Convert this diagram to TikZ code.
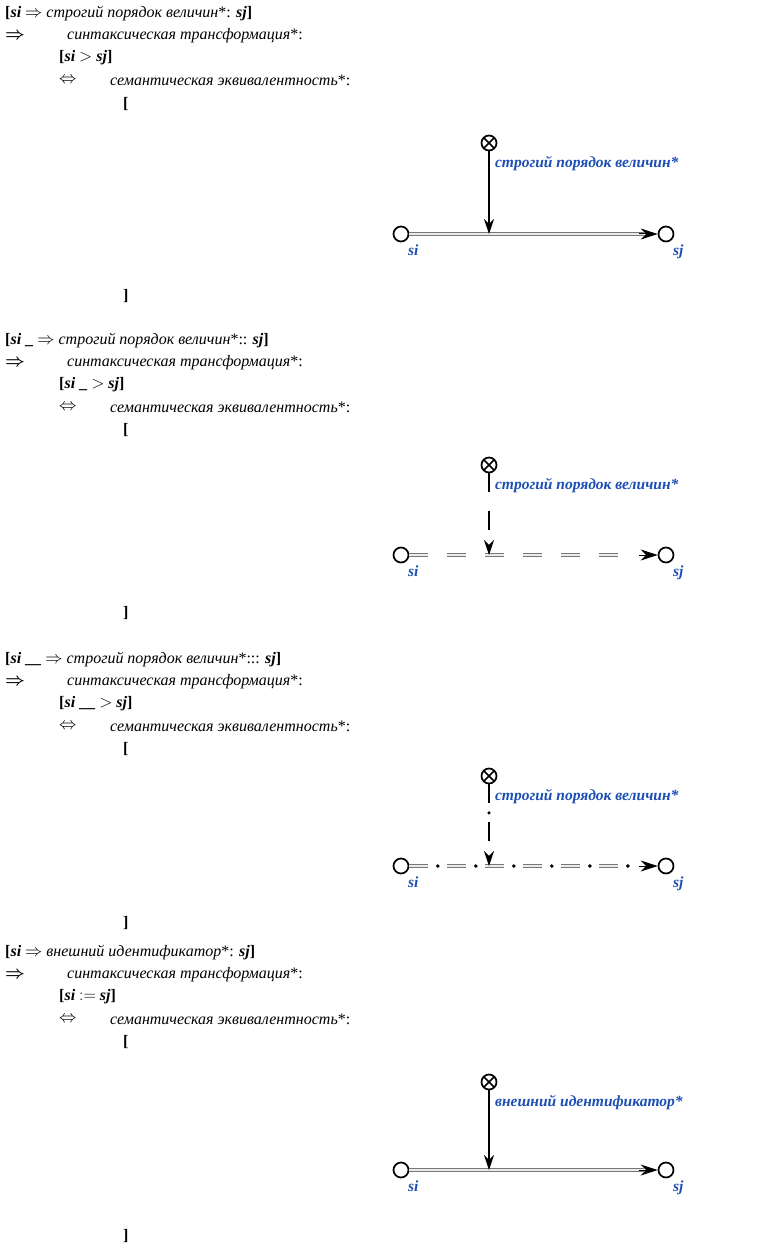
\documentclass[tikz,border=0pt]{standalone}
\usepackage{amsmath}
\usepackage{fontspec}
\setmainfont{Liberation Serif}
\usepackage{tikz}
\usetikzlibrary{positioning}
\usetikzlibrary{arrows.meta}

\definecolor{lblblue}{RGB}{28,78,180}
\definecolor{relgray}{RGB}{120,120,120}

\tikzset{
  txt/.style={anchor=west, inner sep=0pt, font=\fontsize{16}{18}\selectfont},
  vertex/.style={circle, draw, line width=1.7pt, minimum size=15pt, inner sep=0pt},
  relnode/.style={vertex, path picture={
      \draw[line width=1.5pt] (path picture bounding box.north west) -- (path picture bounding box.south east)
                              (path picture bounding box.south west) -- (path picture bounding box.north east);}},
  lbl/.style={inner sep=0pt, text=lblblue, font=\fontsize{15.5}{17}\selectfont\bfseries\itshape},
  relarc/.style={draw=relgray, line width=1.5pt, double=white!85!gray, double distance=1.8pt, shorten >=14pt},
  relarcdash/.style={relarc, dash pattern=on 19pt off 19pt, shorten >=22pt},
  headonly/.style={draw=black, line width=1pt, -{Stealth[length=17pt,width=11pt]}, shorten <=230pt},
  modarc/.style={draw=black, line width=1.7pt, -{Stealth[length=15pt,width=10pt]}},
  dotmarks/.style={draw=black, line width=3.8pt, line cap=round, dash pattern=on 0pt off 38pt, dash phase=9.5pt}
}

\begin{document}
\begin{tikzpicture}[x=1pt,y=-1pt]
  \useasboundingbox (0,0) rectangle (782,1246);

  % block 1
  \node[txt] (head1) at (5,14) {\textbf{[\textit{si}} $\Rightarrow$ \textit{строгий порядок величин}*: \textbf{\textit{sj}]}};
  \node[txt] (impl1) at (5,36) {$\boldsymbol{\Rightarrow}$};
  \node[txt] (synt1) at (67,36) {\textit{синтаксическая трансформация}*:};
  \node[txt] (src1) at (59,58) {\textbf{[\textit{si}} $>$ \textbf{\textit{sj}]}};
  \node[txt] (equiv1) at (59,80) {$\Leftrightarrow$};
  \node[txt] (sem1) at (110,80) {\textit{семантическая эквивалентность}*:};
  \node[txt] (open1) at (123,104) {\textbf{[}};
  \node[txt] (close1) at (123,296) {\textbf{]}};

  \node[relnode] (rel1) at (489,143) {};
  \node[vertex] (si1) at (401,234) {};
  \node[vertex] (sj1) at (666,234) {};
  \node[lbl, below right=7pt and 0pt of rel1] (rellbl1) {строгий порядок величин*};
  \node[lbl, below right=5pt and 1pt of si1] (lsi1) {si};
  \node[lbl, below right=5pt and 1pt of sj1] (lsj1) {sj};
  \draw[relarc] (si1) -- (sj1);
  \draw[headonly] (si1) -- (sj1);
  \draw[modarc] (rel1) -- (rel1 |- si1);

  % block 2
  \node[txt] (head2) at (5,341) {\textbf{[\textit{si} \_} $\Rightarrow$ \textit{строгий порядок величин}*:: \textbf{\textit{sj}]}};
  \node[txt] (impl2) at (5,363) {$\boldsymbol{\Rightarrow}$};
  \node[txt] (synt2) at (67,363) {\textit{синтаксическая трансформация}*:};
  \node[txt] (src2) at (59,385) {\textbf{[\textit{si} \_} $>$ \textbf{\textit{sj}]}};
  \node[txt] (equiv2) at (59,407) {$\Leftrightarrow$};
  \node[txt] (sem2) at (110,407) {\textit{семантическая эквивалентность}*:};
  \node[txt] (open2) at (123,430) {\textbf{[}};
  \node[txt] (close2) at (123,613) {\textbf{]}};

  \node[relnode] (rel2) at (489,465) {};
  \node[vertex] (si2) at (401,555) {};
  \node[vertex] (sj2) at (666,555) {};
  \node[lbl, below right=7pt and 0pt of rel2] (rellbl2) {строгий порядок величин*};
  \node[lbl, below right=5pt and 1pt of si2] (lsi2) {si};
  \node[lbl, below right=5pt and 1pt of sj2] (lsj2) {sj};
  \draw[relarcdash] (si2) -- (sj2);
  \draw[headonly] (si2) -- (sj2);
  \draw[modarc, dash pattern=on 19pt off 19pt] (rel2) -- (rel2 |- si2);

  % block 3
  \node[txt] (head3) at (5,660) {\textbf{[\textit{si} \_\_} $\Rightarrow$ \textit{строгий порядок величин}*::: \textbf{\textit{sj}]}};
  \node[txt] (impl3) at (5,682) {$\boldsymbol{\Rightarrow}$};
  \node[txt] (synt3) at (67,682) {\textit{синтаксическая трансформация}*:};
  \node[txt] (src3) at (59,704) {\textbf{[\textit{si} \_\_} $>$ \textbf{\textit{sj}]}};
  \node[txt] (equiv3) at (59,726) {$\Leftrightarrow$};
  \node[txt] (sem3) at (110,726) {\textit{семантическая эквивалентность}*:};
  \node[txt] (open3) at (123,749) {\textbf{[}};
  \node[txt] (close3) at (123,923) {\textbf{]}};

  \node[relnode] (rel3) at (489,776) {};
  \node[vertex] (si3) at (401,866) {};
  \node[vertex] (sj3) at (666,866) {};
  \node[lbl, below right=7pt and 0pt of rel3] (rellbl3) {строгий порядок величин*};
  \node[lbl, below right=5pt and 1pt of si3] (lsi3) {si};
  \node[lbl, below right=5pt and 1pt of sj3] (lsj3) {sj};
  \draw[relarcdash] (si3) -- (sj3);
  \draw[dotmarks] (si3) -- (sj3);
  \draw[headonly] (si3) -- (sj3);
  \draw[modarc, dash pattern=on 19pt off 19pt] (rel3) -- (rel3 |- si3);
  \draw[dotmarks, line width=3.4pt, shorten >=18pt] (rel3) -- (rel3 |- si3);

  % block 4
  \node[txt] (head4) at (5,953) {\textbf{[\textit{si}} $\Rightarrow$ \textit{внешний идентификатор}*: \textbf{\textit{sj}]}};
  \node[txt] (impl4) at (5,975) {$\boldsymbol{\Rightarrow}$};
  \node[txt] (synt4) at (67,975) {\textit{синтаксическая трансформация}*:};
  \node[txt] (src4) at (59,997) {\textbf{[\textit{si}} $:=$ \textbf{\textit{sj}]}};
  \node[txt] (equiv4) at (59,1019) {$\Leftrightarrow$};
  \node[txt] (sem4) at (110,1019) {\textit{семантическая эквивалентность}*:};
  \node[txt] (open4) at (123,1042) {\textbf{[}};
  \node[txt] (close4) at (123,1236) {\textbf{]}};

  \node[relnode] (rel4) at (489,1082) {};
  \node[vertex] (si4) at (401,1170) {};
  \node[vertex] (sj4) at (666,1170) {};
  \node[lbl, below right=7pt and 0pt of rel4] (rellbl4) {внешний идентификатор*};
  \node[lbl, below right=5pt and 1pt of si4] (lsi4) {si};
  \node[lbl, below right=5pt and 1pt of sj4] (lsj4) {sj};
  \draw[relarc] (si4) -- (sj4);
  \draw[headonly] (si4) -- (sj4);
  \draw[modarc] (rel4) -- (rel4 |- si4);
\end{tikzpicture}
\end{document}
